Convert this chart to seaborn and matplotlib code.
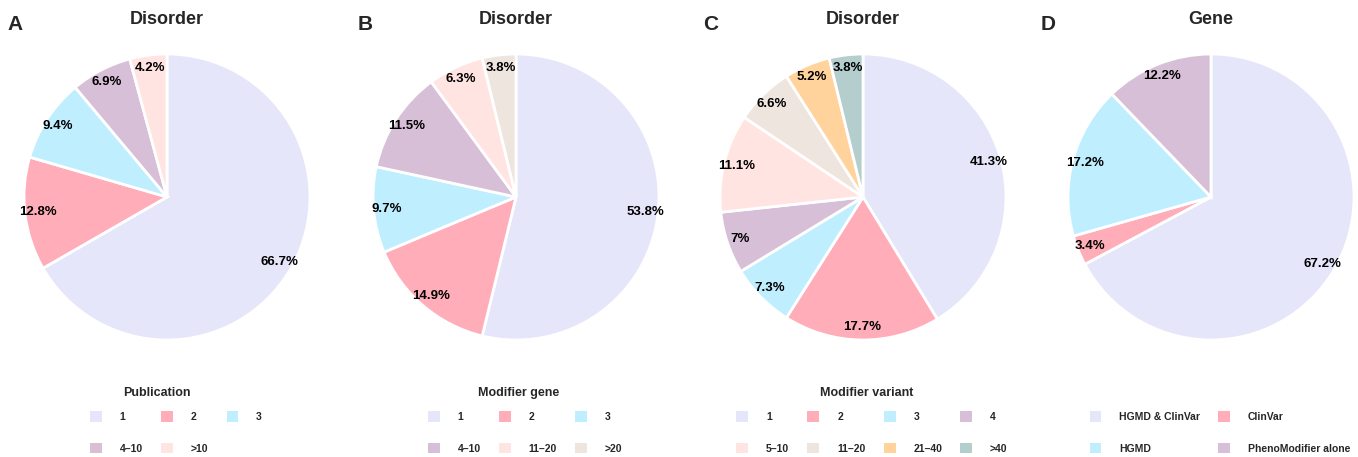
import numpy as np
import matplotlib
matplotlib.use("Agg")
import matplotlib.pyplot as plt
import matplotlib.patches as mpatches
import seaborn as sns

sns.set_theme(style="white")
plt.rcParams['font.family'] = ['Liberation Sans', 'DejaVu Sans']

# colours (R-style named colours)
pal = {
    'lavender': '#E6E6FA', 'pink': '#FFAEB9', 'blue': '#BFEFFF', 'thistle': '#D8BFD8',
    'rose': '#FFE4E1', 'shell': '#EEE5DE', 'wood': '#FFD39B', 'cyan': '#B4CDCD',
}

# panel A - publications per disorder
pub_labels = ['1', '2', '3', '4\u201310', '>10']
pub_values = [66.7, 12.8, 9.4, 6.9, 4.2]
pub_colors = ['lavender', 'pink', 'blue', 'thistle', 'rose']

# panel B - modifier genes per disorder
gene_labels = ['1', '2', '3', '4\u201310', '11\u201320', '>20']
gene_values = [53.8, 14.9, 9.7, 11.5, 6.3, 3.8]
gene_colors = ['lavender', 'pink', 'blue', 'thistle', 'rose', 'shell']

# panel C - modifier variants per disorder
var_labels = ['1', '2', '3', '4', '5\u201310', '11\u201320', '21\u201340', '>40']
var_values = [41.3, 17.7, 7.3, 7.0, 11.1, 6.6, 5.2, 3.8]
var_colors = ['lavender', 'pink', 'blue', 'thistle', 'rose', 'shell', 'wood', 'cyan']

# panel D - gene source
src_labels = ['HGMD & ClinVar', 'ClinVar', 'HGMD', 'PhenoModifier alone']
src_values = [67.2, 3.4, 17.2, 12.2]
src_colors = ['lavender', 'pink', 'blue', 'thistle']

# letter, title, legend title, labels, values, colours, ncol, pie centre x, letter x, legend-title x
panels = [
    ('A', 'Disorder', 'Publication', pub_labels, pub_values, pub_colors, 3, 167, 15, 157),
    ('B', 'Disorder', 'Modifier gene', gene_labels, gene_values, gene_colors, 3, 516, 365, 519),
    ('C', 'Disorder', 'Modifier variant', var_labels, var_values, var_colors, 4, 863, 711, 867),
    ('D', 'Gene', '', src_labels, src_values, src_colors, 2, 1211, 1048, 1211),
]

W, H = 1358, 457
fig = plt.figure(figsize=(W / 100, H / 100), dpi=100)

R = 143  # pie radius in px
cy = 197


def fmt_pct(p):
    return f"{round(p, 1):g}%"


def row_major(items, ncol):
    # reorder so matplotlib's column-wise fill reads row by row
    n = len(items)
    nrows = int(np.ceil(n / ncol))
    out = []
    for c in range(ncol):
        for r in range(nrows):
            i = r * ncol + c
            if i < n:
                out.append(items[i])
    return out


for letter, title, leg_title, labels, values, cols, ncol, cx, lx, tx in panels:
    size = 2 * R * 1.03
    ax = fig.add_axes([(cx - size / 2) / W, (H - cy - size / 2) / H, size / W, size / H])
    colors = [pal[c] for c in cols]
    ax.pie(values, colors=colors, startangle=90, counterclock=False,
           autopct=fmt_pct, pctdistance=0.91,
           wedgeprops=dict(edgecolor='white', linewidth=2),
           textprops=dict(fontsize=9.5, fontweight='bold', color='black'))
    ax.set_xlim(-1.03, 1.03)
    ax.set_ylim(-1.03, 1.03)
    ax.set_aspect('equal')

    fig.text(cx / W, 1 - 20 / H, title, ha='center', va='center',
             fontsize=13, fontweight='bold')
    fig.text(lx / W, 1 - 25 / H, letter, ha='center', va='center',
             fontsize=15, fontweight='bold')
    if leg_title:
        fig.text(tx / W, 1 - 393 / H, leg_title, ha='center', va='center',
                 fontsize=9, fontweight='bold')

    handles = [mpatches.Patch(facecolor=c, edgecolor='none', label=l)
               for c, l in zip(colors, labels)]
    handles = row_major(handles, ncol)
    ax.legend(handles=handles, ncol=ncol, loc='upper center',
              bbox_to_anchor=((cx + 9) / W, 1 - 404 / H), bbox_transform=fig.transFigure,
              frameon=False, prop=dict(size=7.5, weight='bold'),
              handlelength=1.15, handleheight=1.15, handletextpad=1.7,
              columnspacing=1.75, labelspacing=2.0, borderpad=0.2)

fig.savefig('out.png', dpi=100)
